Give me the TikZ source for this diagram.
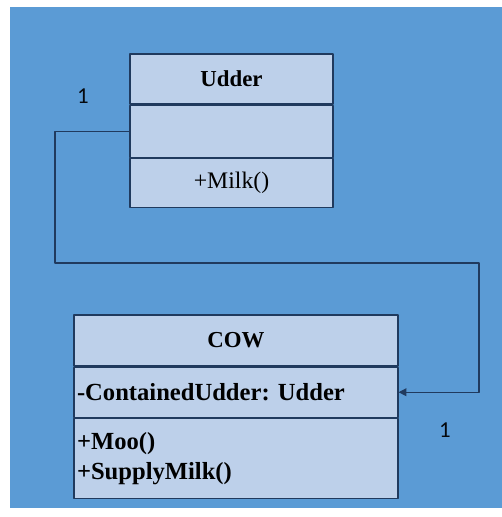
\documentclass[tikz,border=0pt]{standalone}
\usepackage{fontspec}
\setmainfont{Liberation Serif}
\newfontfamily\numfont{Carlito}
\usetikzlibrary{positioning,arrows.meta}
\definecolor{bgblue}{HTML}{5B9BD5}
\definecolor{boxfill}{HTML}{BDD0EA}
\definecolor{lineblue}{HTML}{203A5E}
\tikzset{
  part/.style={draw=lineblue, fill=boxfill, line width=0.7pt, inner sep=0pt,
    font=\fontsize{13}{17}\selectfont},
  udderpart/.style={part, minimum width=4.06cm},
  cowpart/.style={part, minimum width=6.48cm, text width=6.36cm, align=left,
    font=\fontsize{14}{17}\selectfont\frenchspacing},
  conn/.style={draw=lineblue, line width=0.7pt},
  mult/.style={font=\numfont\fontsize{13}{15}\selectfont, text=black!85!lineblue}
}
\begin{document}
\begin{tikzpicture}[x=0.02cm, y=-0.02cm, line join=round, >={Triangle[length=4.5pt,width=4.5pt]}]
	\fill[white] (0,0) rectangle (502,517);
	\fill[bgblue] (10,7) rectangle (502,508);
	% Udder class
	\node[udderpart, minimum height=1cm] (udderName) at (231.5,79) {\bfseries Udder};
	\node[udderpart, minimum height=1.04cm, below=0pt of udderName] (udderAttr) {};
	\node[udderpart, minimum height=0.98cm, below=0pt of udderAttr] (udderOps) {\fontsize{13.5}{17}\selectfont +Milk()};
	% COW class
	\node[part, minimum width=6.48cm, minimum height=1.02cm] (cowName) at (236,340.5) {\bfseries COW};
	\node[cowpart, minimum height=1cm, below=0pt of cowName] (cowAttr) {\bfseries -ContainedUdder: Udder};
	\node[cowpart, minimum height=1.6cm, below=0pt of cowAttr] (cowOps) {\bfseries +Moo()\\+SupplyMilk()};
	% association
	\coordinate (bendL) at (55,263);
	\coordinate (bendR) at (479,263);
	\draw[conn,->] (udderAttr.west) -| (bendL) -- (bendR) |- (cowAttr.east);
	\node[mult] (multUdder) at (83,96) {1};
	\node[mult] (multCow) at (445,430) {1};
\end{tikzpicture}
\end{document}
